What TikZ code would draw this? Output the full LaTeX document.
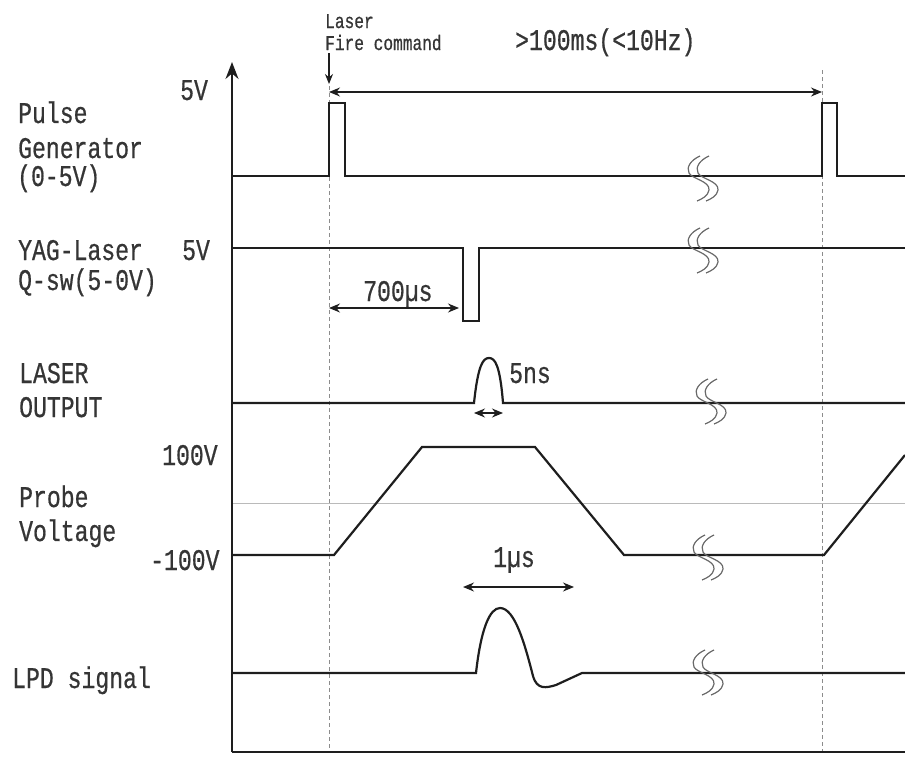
\documentclass[tikz,border=0pt]{standalone}
\usepackage{fontspec}
\usetikzlibrary{arrows.meta}
\newfontfamily\gothic[FakeStretch=0.77,FakeBold=0.6]{Liberation Mono}
\definecolor{ink}{HTML}{1E1E1E}
\definecolor{grid}{HTML}{8C8C8C}
\tikzset{trace/.style={draw=ink,line width=2.2pt,line join=miter}, axisline/.style={draw=ink,line width=2pt}, guideline/.style={draw=grid,line width=.9pt,dash pattern=on 4pt off 3pt}, midline/.style={draw=grid!60,line width=.9pt}, dimline/.style={draw=ink,line width=1.2pt,{Stealth[length=11pt,width=9pt]}-{Stealth[length=11pt,width=9pt]}}, note/.style={font=\gothic\fontsize{30}{32}\selectfont,text=ink!90,anchor=base west,inner sep=0pt}, smallnote/.style={note,font=\gothic\fontsize{21}{23}\selectfont}, wavebreak/.pic={\foreach \d in {0,9}{\draw[grid!75!black,line width=1.2pt,xshift=\d pt] (3,-22) .. controls (-6,-18) and (-11,-11) .. (-8,-5) .. controls (-5,1) and (13,3) .. (12,12) .. controls (11,18) and (5,21) .. (0,23);}}}
\begin{document}
\begin{tikzpicture}[x=1pt,y=-1pt]
\useasboundingbox (0,0) rectangle (905,758);
\coordinate (O) at (232,752);
\coordinate (F) at (329,92); \coordinate (R) at (822,92);
\draw[midline] (232,503)--(905,503);
\draw[guideline] (329,86)--(329,752);
\draw[guideline] (822,70)--(822,752);
\draw[axisline,-{Stealth[length=17pt,width=13pt]}] (O)--(232,62);
\draw[axisline] (O)--(905,752);
\draw[trace] (232,176)--(329,176)--(329,103)--(345,103)--(345,176)--(822,176)--(822,103)--(837,103)--(837,176)--(905,176);
\draw[trace] (232,248)--(463,248)--(463,321)--(479,321)--(479,248)--(905,248);
\draw[trace] (232,403)--(474,403) .. controls (478,365) and (483,358) .. (489,358) .. controls (495,358) and (500,365) .. (503,403)--(905,403);
\draw[trace] (232,555)--(334,555)--(422,447)--(535,447)--(624,555)--(824,555)--(905,455);
\draw[trace] (232,673)--(476,673) .. controls (481,628) and (490,608) .. (500,608) .. controls (515,608) and (525,645) .. (533,676) .. controls (537,690) and (546,688) .. (556,685)--(582,673)--(905,673);
\foreach \p in {(697,178),(697,250),(705,401),(702,557),(702,672)} \pic at \p {wavebreak};
\draw[draw=ink,line width=1.1pt,-{Stealth[length=10pt,width=8pt]}] (329,53)--(329,84);
\draw[dimline] (F)--(R);
\draw[dimline] (329,308)--(459,308);
\draw[dimline] (474,413)--(503,413);
\draw[dimline] (463,587)--(574,587);
\node[note] (pg1) at (18,123) {Pulse};
\node[note] (pg2) at (18,158) {Generator};
\node[note] (pg3) at (17,186) {(0-5V)};
\node[note] (pgtop) at (180,100) {5V};
\node[note] (yag1) at (18,260) {YAG-Laser};
\node[note] (yag2) at (18,290) {Q-sw(5-0V)};
\node[note] (yagtop) at (182,260) {5V};
\node[note] (lo1) at (19,383) {LASER};
\node[note] (lo2) at (19,417) {OUTPUT};
\node[note] (pv1) at (19,507) {Probe};
\node[note] (pv2) at (19,541) {Voltage};
\node[note] (pvhi) at (162,465) {100V};
\node[note] (pvlo) at (150,570) {-100V};
\node[note] (lpd) at (12,688) {LPD signal};
\node[smallnote] (fire1) at (325,28) {Laser};
\node[smallnote] (fire2) at (325,50) {Fire command};
\node[note] (period) at (515,50) {>100ms(<10Hz)};
\node[note] (qdelay) at (363,301) {700µs};
\node[note] (lwidth) at (509,383) {5ns};
\node[note] (swidth) at (493,567) {1µs};
\end{tikzpicture}
\end{document}
